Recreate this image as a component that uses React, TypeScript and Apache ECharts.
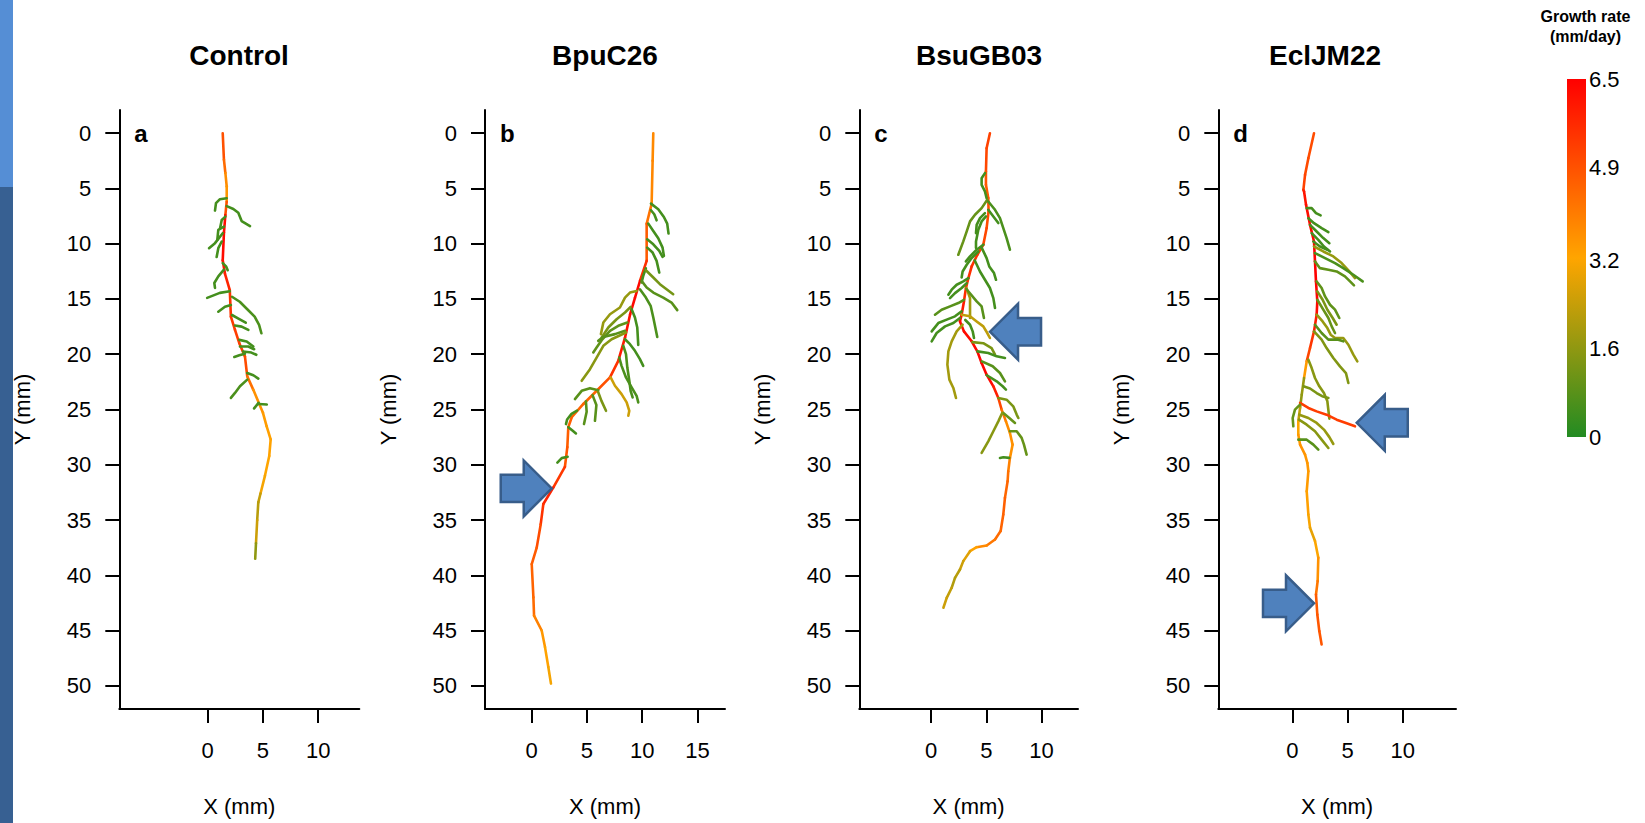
import React, { useEffect, useRef } from 'react';
import * as echarts from 'echarts';

type Pt = [number, number, number];

// ---------- texts / ticks ----------
const panelTitles = ['Control', 'BpuC26', 'BsuGB03', 'EclJM22'];
const panelLetters = ['a', 'b', 'c', 'd'];
const titleCenters = [239, 605, 979, 1325];
const xTickValues = [[0, 5, 10], [0, 5, 10, 15], [0, 5, 10], [0, 5, 10]];
const xRanges = [[-8.0, 13.72], [-4.23, 17.49], [-6.49, 13.3], [-6.7, 14.81]];
const yTickValues = [0, 5, 10, 15, 20, 25, 30, 35, 40, 45, 50];
const yRange = [-2.1, 52.1];
const rateTicks = [0, 1.6, 3.2, 4.9, 6.5];
const rateStops = [0, 3.25, 6.5];
const rateColors = ['#228b22', '#ffa500', '#ff0000'];

// ---------- layout ----------
const gridLefts = [119.3, 485, 859.3, 1218.3];
const gridWidths = [240, 240, 218.7, 237.7];
const gridTop = 110;
const gridHeight = 599;

// ---------- arrows (annotation tips, mm) ----------
const arrowPanels = [1, 2, 3, 3];
const arrowX = [1.81, 5.34, 5.83, 1.96];
const arrowY = [32.14, 17.96, 26.2, 42.54];
const arrowDir = [1, -1, -1, 1];

// ---------- roots: main [x, y, rate]; laterals [rate, x1, y1, x2, y2, ...] ----------
const controlMain: Pt[] = [
  [1.36, 0, 5.0], [1.47, 2.4, 4.8], [1.6, 3.6, 4.0], [1.72, 4.8, 3.5], [1.72, 6.2, 3.6],
  [1.6, 7.4, 6.2], [1.47, 9.0, 6.3], [1.36, 11.5, 6.3], [1.56, 12.7, 6.0], [2.0, 14.2, 5.6],
  [2.1, 16.6, 5.4], [2.47, 17.8, 5.3], [2.86, 19.0, 5.3], [3.37, 20.2, 5.2], [3.58, 22.0, 4.8],
  [4.12, 23.2, 3.8], [5.0, 25.3, 3.5], [5.33, 26.5, 3.4], [5.7, 27.7, 3.3], [5.57, 29.2, 3.3],
  [5.18, 31.0, 3.2], [4.78, 32.6, 3.0], [4.58, 33.4, 1.8], [4.48, 35.0, 2.6], [4.37, 37.1, 2.4],
  [4.3, 38.5, 0.8],
];
const controlLaterals: number[][] = [
  [0.5, 1.72, 5.88, 1.11, 5.97, 0.75, 6.33, 0.66, 7.0],
  [0.5, 1.72, 6.6, 2.32, 6.86, 2.77, 7.2, 3.07, 7.95, 3.83, 8.4],
  [0.5, 1.6, 7.55, 1.27, 7.85, 1.12, 8.6],
  [0.5, 1.47, 8.45, 0.96, 8.75, 0.87, 9.65],
  [0.5, 1.36, 9.05, 0.66, 9.95, 0.12, 10.4],
  [0.5, 1.27, 9.8, 0.96, 10.4, 0.81, 11.2],
  [0.5, 1.36, 11.75, 1.66, 12.05, 1.81, 12.4],
  [0.5, 1.47, 12.35, 0.96, 12.95, 0.6, 13.55, 0.66, 14.0],
  [0.5, 2.0, 14.3, 1.1, 14.45, -0.05, 14.9],
  [0.6, 2.2, 14.8, 2.9, 15.25, 3.65, 16.0, 4.25, 16.6, 4.65, 17.35, 4.86, 18.1],
  [0.5, 2.1, 15.55, 1.56, 15.7, 0.96, 16.15],
  [0.5, 2.2, 16.45, 2.74, 16.75, 3.44, 17.15],
  [0.5, 2.47, 17.4, 3.07, 17.5, 3.68, 17.8],
  [0.5, 2.86, 18.7, 3.53, 18.85, 4.13, 19.3],
  [0.5, 2.92, 19.3, 3.68, 19.3, 4.2, 19.55],
  [0.5, 3.2, 19.75, 3.95, 19.85, 4.4, 20.05],
  [0.5, 3.37, 19.95, 2.86, 20.1, 2.41, 20.25],
  [0.5, 3.58, 21.7, 4.13, 21.9, 4.58, 22.2],
  [0.6, 3.58, 22.3, 2.92, 22.9, 2.47, 23.5, 2.1, 23.95],
  [0.5, 4.6, 24.4, 4.2, 24.9],
  [0.5, 4.6, 24.5, 5.35, 24.55],
];

const bpuMain: Pt[] = [
  [11.0, 0, 3.8], [10.94, 2.5, 3.8], [10.85, 6.4, 3.9], [10.4, 8.2, 4.6], [10.4, 11.55, 4.8],
  [9.8, 13.35, 6.3], [9.34, 14.9, 6.4], [8.9, 16.4, 6.3], [8.44, 18.5, 6.2], [7.83, 20.6, 5.8],
  [7.08, 22.1, 5.2], [5.88, 23.3, 4.6], [4.67, 24.5, 4.5], [3.62, 25.7, 4.6], [3.31, 26.6, 4.7],
  [3.22, 28.4, 4.6], [3.0, 30.2, 5.0], [1.96, 32.05, 5.8], [1.05, 33.55, 5.8], [0.81, 35.4, 5.2],
  [0.45, 37.5, 4.8], [0.0, 39.0, 4.6], [0.15, 42.0, 4.5], [0.21, 43.65, 4.3], [0.9, 45.0, 3.6],
  [1.2, 46.5, 3.4], [1.5, 48.3, 3.2], [1.74, 49.8, 3.0],
];
const bpuLaterals: number[][] = [
  [0.5, 10.79, 6.37, 11.45, 6.88, 11.96, 7.58, 12.26, 8.18, 12.38, 9.08],
  [0.5, 10.79, 6.97, 11.09, 7.33, 11.3, 7.88],
  [0.5, 10.55, 8.18, 11.0, 8.84, 11.45, 9.5, 11.84, 10.35, 11.96, 11.1],
  [0.5, 10.45, 9.6, 11.0, 10.05, 11.54, 10.65, 11.84, 11.19],
  [0.5, 10.45, 10.35, 10.94, 10.8, 11.3, 11.55, 11.54, 12.61],
  [0.5, 10.33, 12.22, 10.09, 12.91, 9.94, 13.51],
  [1.2, 10.33, 12.4, 11.0, 13.06, 11.6, 13.66, 12.2, 14.12, 12.8, 14.57],
  [0.8, 9.94, 13.36, 10.4, 13.96, 11.0, 14.42, 11.9, 14.87, 12.65, 15.32, 13.17, 16.01],
  [0.6, 9.79, 14.12, 10.33, 14.87, 10.76, 15.62, 11.0, 16.68, 11.36, 18.43],
  [1.7, 9.49, 14.27, 8.89, 14.42, 8.44, 14.87, 7.98, 15.77, 7.08, 16.38, 6.48, 17.13, 6.26, 18.18],
  [1.3, 8.95, 15.71, 8.44, 16.22, 7.68, 16.83, 6.93, 17.58, 6.33, 18.49],
  [0.9, 8.65, 17.13, 7.83, 17.43, 7.08, 17.88, 6.33, 18.73, 5.87, 19.39, 5.57, 19.84],
  [0.8, 8.44, 17.88, 7.53, 18.18, 6.48, 18.43, 6.02, 18.79],
  [0.5, 9.04, 15.92, 9.34, 16.68, 9.55, 17.58, 9.64, 19.15],
  [0.5, 8.44, 18.64, 8.89, 19.09, 9.34, 19.69, 9.79, 20.44, 10.09, 21.05],
  [0.6, 8.29, 19.24, 8.53, 19.99, 8.65, 21.2, 8.83, 22.4, 8.95, 23.31, 9.13, 23.91],
  [0.6, 7.92, 20.3, 8.13, 21.05, 8.53, 22.1, 9.04, 23.0, 9.49, 23.76, 9.64, 24.36],
  [1.5, 8.53, 18.03, 7.23, 18.64, 6.48, 19.24, 5.87, 20.3, 5.27, 21.35, 4.52, 22.4],
  [2.5, 7.14, 22.1, 7.53, 22.85, 8.13, 23.61, 8.59, 24.36, 8.83, 25.12, 8.74, 25.57],
  [0.8, 6.02, 23.25, 5.27, 23.07, 4.52, 23.31, 3.91, 24.06],
  [1.3, 6.0, 23.4, 6.3, 24.2, 6.72, 25.12],
  [0.8, 5.5, 23.7, 5.85, 24.6, 5.72, 26.02],
  [0.8, 4.9, 24.25, 4.97, 25.2, 4.73, 26.32],
  [0.5, 4.1, 25.1, 3.6, 25.4, 3.2, 25.9, 3.1, 26.32],
  [0.5, 3.31, 26.6, 3.71, 26.93, 4.0, 27.17],
  [0.5, 3.25, 29.28, 2.71, 29.4, 2.32, 29.8],
];

const bsuMain: Pt[] = [
  [5.33, 0, 5.2], [5.03, 1.36, 5.2], [4.97, 3.46, 5.0], [4.97, 4.67, 4.6], [5.18, 5.87, 4.8],
  [5.21, 7.08, 5.0], [5.03, 8.59, 5.0], [4.73, 10.09, 5.2], [4.19, 11.0, 5.4], [3.68, 12.05, 5.6],
  [3.38, 13.11, 5.6], [3.16, 14.01, 5.5], [2.98, 15.22, 5.8], [2.77, 16.42, 6.2], [2.62, 17.03, 6.3],
  [2.98, 17.93, 6.3], [3.68, 18.83, 6.3], [4.19, 19.74, 6.4], [4.58, 20.79, 6.4], [5.03, 21.85, 6.4],
  [5.64, 22.9, 6.2], [6.09, 23.96, 5.6], [6.39, 25.01, 4.6], [6.78, 26.07, 3.8], [7.14, 27.12, 3.7],
  [7.38, 28.18, 3.6], [7.14, 29.38, 3.7], [6.99, 30.59, 4.2], [6.93, 31.49, 4.4], [6.69, 33.0, 4.6],
  [6.54, 34.5, 4.6], [6.3, 36.0, 4.5], [5.79, 36.76, 4.3], [5.04, 37.3, 4.0], [4.13, 37.46, 3.6],
  [3.53, 37.82, 3.0], [2.92, 38.72, 2.6], [2.62, 39.48, 2.4], [2.17, 40.23, 2.0], [1.87, 41.13, 2.2],
  [1.42, 42.04, 2.5], [1.12, 42.94, 2.5],
];
const bsuLaterals: number[][] = [
  [0.5, 4.88, 3.61, 4.58, 4.07, 4.58, 4.67, 4.88, 5.27, 5.03, 5.87],
  [1.0, 5.09, 6.03, 4.58, 6.78, 3.98, 7.38, 3.53, 7.98, 3.23, 8.89, 2.92, 9.79, 2.47, 11.0],
  [0.5, 5.18, 6.93, 5.64, 7.53, 6.09, 8.13],
  [0.6, 5.18, 6.18, 5.79, 6.93, 6.24, 7.68, 6.54, 8.59, 6.84, 9.49, 7.14, 10.54],
  [0.5, 4.88, 7.23, 4.43, 7.68, 4.13, 8.29, 4.07, 9.04],
  [0.5, 4.97, 7.53, 4.58, 7.98, 4.28, 8.74, 4.07, 9.79, 4.07, 10.39],
  [0.5, 4.73, 10.09, 4.13, 10.54, 3.53, 11.15, 3.16, 11.6],
  [0.5, 4.28, 10.7, 3.68, 11.3, 3.23, 11.9, 2.86, 12.51, 2.77, 13.05],
  [0.5, 4.6, 10.4, 5.03, 11.3, 5.27, 12.05, 5.7, 12.66, 5.88, 13.26],
  [0.5, 3.95, 11.5, 4.43, 12.51, 4.88, 13.26, 5.33, 14.01, 5.64, 14.92, 5.79, 15.82],
  [0.5, 3.38, 13.11, 2.92, 13.41, 2.32, 13.71, 1.87, 14.16, 1.57, 14.61],
  [0.5, 3.23, 13.56, 2.77, 14.01, 2.17, 14.47, 1.72, 14.92],
  [1.9, 3.2, 14.0, 3.53, 14.92, 3.53, 15.82, 3.53, 16.72],
  [0.8, 3.2, 14.1, 4.13, 15.22, 4.58, 15.67, 4.79, 16.72],
  [0.8, 2.98, 15.07, 2.47, 15.37, 1.72, 15.67, 0.96, 15.97, 0.36, 16.42],
  [0.5, 2.77, 16.12, 2.17, 16.57, 1.42, 16.87, 0.66, 17.18, 0.06, 17.93],
  [0.5, 2.62, 16.72, 2.02, 17.18, 1.27, 17.48, 0.51, 18.08, 0.06, 18.83],
  [2.3, 2.77, 16.42, 3.53, 16.57, 4.13, 17.03, 4.73, 17.48, 5.09, 18.08, 5.33, 18.53],
  [1.9, 2.86, 17.33, 2.32, 17.93, 1.87, 18.83, 1.57, 19.74, 1.48, 20.94, 1.66, 22.3, 2.02, 23.05, 2.26, 23.96],
  [0.5, 3.1, 16.9, 3.53, 17.33, 3.77, 17.93, 3.89, 18.53],
  [1.3, 3.75, 18.9, 4.73, 19.0, 5.48, 19.44, 5.79, 20.04],
  [0.5, 4.2, 19.74, 5.18, 19.89, 5.94, 20.19, 6.69, 20.34],
  [0.8, 4.6, 20.64, 5.58, 21.09, 6.24, 21.7, 6.69, 22.45],
  [0.5, 5.05, 21.9, 5.94, 22.45, 6.48, 22.9, 6.78, 23.2],
  [1.3, 6.09, 23.96, 6.84, 24.11, 7.44, 24.71, 7.75, 25.46, 7.9, 25.77],
  [1.0, 6.54, 25.31, 7.08, 25.77, 7.6, 26.22],
  [1.5, 6.45, 25.3, 6.09, 26.07, 5.64, 26.97, 5.18, 27.88, 4.58, 28.93],
  [1.0, 7.14, 26.97, 7.75, 26.97, 8.2, 27.57, 8.41, 28.18, 8.65, 29.08],
  [0.5, 7.08, 29.38, 6.54, 29.32, 6.24, 29.38],
];

const eclMain: Pt[] = [
  [1.96, 0, 5.0], [1.45, 2.26, 5.0], [1.15, 3.77, 5.1], [1.0, 5.12, 5.3], [1.06, 5.27, 6.0],
  [1.24, 6.48, 6.2], [1.6, 8.29, 6.3], [1.96, 9.8, 6.4], [2.05, 11.6, 6.5], [2.14, 13.41, 6.5],
  [2.26, 15.22, 6.4], [2.2, 16.42, 6.2], [1.96, 17.93, 5.6], [1.6, 19.44, 5.3], [1.3, 20.64, 5.0],
  [1.06, 22.15, 1.9], [0.85, 23.66, 1.5], [0.7, 24.86, 1.7], [0.54, 26.07, 3.0], [0.54, 27.28, 3.4],
  [0.7, 28.18, 3.6], [1.15, 29.08, 3.6], [1.36, 29.84, 3.5], [1.45, 30.59, 3.5], [1.3, 32.4, 3.4],
  [1.45, 34.5, 3.3], [1.6, 35.7, 3.0], [2.05, 36.9, 2.8], [2.35, 38.42, 3.6], [2.29, 40.53, 3.7],
  [2.14, 41.74, 4.6], [2.26, 43.55, 4.8], [2.44, 45.05, 4.8], [2.65, 46.26, 4.8],
];
const eclLaterals: number[][] = [
  [0.5, 1.3, 6.78, 1.75, 6.78, 2.14, 7.23, 2.56, 7.44],
  [0.5, 1.45, 7.69, 1.96, 8.14, 2.65, 8.59, 3.26, 8.95],
  [0.5, 1.6, 8.29, 2.2, 8.89, 2.8, 9.49, 3.35, 9.95],
  [0.5, 1.75, 9.04, 2.35, 9.65, 2.86, 10.25, 3.41, 10.7],
  [0.5, 1.9, 9.8, 2.5, 10.25, 3.17, 10.55],
  [1.7, 1.96, 10.25, 2.8, 10.7, 3.71, 11.15, 4.46, 11.75, 5.16, 12.51, 5.67, 13.11],
  [0.6, 2.05, 10.85, 2.96, 11.3, 3.86, 11.75, 4.61, 12.21, 5.52, 12.81, 6.36, 13.41],
  [0.9, 2.05, 11.6, 2.5, 12.21, 3.26, 12.36, 4.01, 12.51, 4.76, 12.96, 5.22, 13.41, 5.58, 13.77],
  [0.9, 2.2, 13.41, 2.65, 14.01, 2.96, 14.77, 3.41, 15.52, 3.86, 15.97, 4.25, 16.72],
  [1.3, 2.26, 14.31, 2.74, 15.07, 3.17, 15.97, 3.65, 16.72, 4.01, 17.33],
  [1.0, 2.26, 15.07, 2.8, 15.97, 3.26, 16.72, 3.56, 17.48, 3.86, 18.08],
  [1.7, 2.2, 16.42, 2.74, 17.03, 3.17, 17.63, 3.47, 18.23, 3.86, 18.53, 4.61, 18.53, 5.07, 19.14, 5.52, 20.04, 5.88, 20.64],
  [0.8, 2.05, 17.33, 2.65, 18.08, 3.26, 18.68, 4.16, 18.68, 4.61, 18.83],
  [1.4, 1.96, 17.93, 2.65, 18.68, 3.1, 19.44, 3.71, 20.34, 4.31, 21.1, 4.85, 21.7, 5.07, 22.6],
  [1.5, 1.45, 20.49, 1.75, 21.25, 2.05, 22.15, 2.44, 22.9, 2.86, 23.51, 3.17, 24.26, 3.35, 25.83],
  [1.3, 1.0, 22.9, 1.6, 23.1, 2.2, 23.51, 2.7, 23.8, 3.26, 23.96],
  [5.3, 0.7, 24.41, 1.45, 24.86, 2.2, 25.17, 3.1, 25.47, 4.01, 25.92, 4.85, 26.22, 5.67, 26.52],
  [1.0, 0.7, 24.56, 0.24, 25.01, 0.03, 25.77, 0.09, 26.52],
  [1.7, 0.63, 25.47, 1.45, 25.77, 2.2, 26.22, 2.86, 26.82, 3.35, 27.5, 3.71, 28.12],
  [1.5, 0.6, 25.92, 1.3, 26.37, 2.05, 26.97, 2.65, 27.73, 3.26, 28.48],
  [0.8, 0.54, 27.73, 1.3, 27.73, 1.9, 28.18, 2.35, 28.63],
];

const panelMains = [controlMain, bpuMain, bsuMain, eclMain];
const panelLaterals = [controlLaterals, bpuLaterals, bsuLaterals, eclLaterals];

// ---------- helpers ----------
const FONT = "'Liberation Sans', Arial, Helvetica, sans-serif";

function hexToRgb(h: string) {
  const n = parseInt(h.slice(1), 16);
  return [(n >> 16) & 255, (n >> 8) & 255, n & 255];
}
function colorFor(r: number) {
  const lo = rateStops[0];
  const hi = rateStops[rateStops.length - 1];
  const v = Math.max(lo, Math.min(hi, r));
  for (let i = 0; i < rateStops.length - 1; i++) {
    if (v <= rateStops[i + 1]) {
      const t = (v - rateStops[i]) / (rateStops[i + 1] - rateStops[i]);
      const a = hexToRgb(rateColors[i]);
      const b = hexToRgb(rateColors[i + 1]);
      const c = a.map((x, k) => Math.round(x + (b[k] - x) * t));
      return `rgb(${c[0]},${c[1]},${c[2]})`;
    }
  }
  return rateColors[rateColors.length - 1];
}

function buildRootData(main: Pt[], laterals: number[][]) {
  const data: any[] = [];
  for (let i = 0; i < main.length - 1; i++) {
    const a = main[i];
    const b = main[i + 1];
    data.push({ coords: [[a[0], a[1]], [b[0], b[1]]], lineStyle: { color: colorFor((a[2] + b[2]) / 2) } });
  }
  for (const lat of laterals) {
    const coords: number[][] = [];
    for (let k = 1; k + 1 < lat.length; k += 2) coords.push([lat[k], lat[k + 1]]);
    data.push({ coords, lineStyle: { color: colorFor(lat[0]) } });
  }
  return data;
}

export default function App() {
  const ref = useRef<HTMLDivElement>(null);

  useEffect(() => {
    if (!ref.current) return;
    const chart = echarts.init(ref.current, null, { renderer: 'svg' });

    const grids: any[] = [];
    const xAxes: any[] = [];
    const yAxes: any[] = [];
    const series: any[] = [];

    for (let i = 0; i < 4; i++) {
      grids.push({ left: gridLefts[i], width: gridWidths[i], top: gridTop, height: gridHeight, containLabel: false });
      xAxes.push({
        type: 'value', gridIndex: i, min: xRanges[i][0], max: xRanges[i][1], position: 'bottom',
        axisLine: { show: true, onZero: false, lineStyle: { color: '#000', width: 2 } },
        axisTick: { show: true, length: 14, customValues: xTickValues[i], lineStyle: { color: '#000', width: 2 } },
        axisLabel: { customValues: xTickValues[i], fontSize: 22, margin: 30, color: '#000', fontFamily: FONT },
        splitLine: { show: false },
        name: 'X (mm)', nameLocation: 'middle', nameGap: 86,
        nameTextStyle: { fontSize: 22, color: '#000', fontFamily: FONT },
      });
      yAxes.push({
        type: 'value', gridIndex: i, min: yRange[0], max: yRange[1], inverse: true, position: 'left',
        axisLine: { show: true, onZero: false, lineStyle: { color: '#000', width: 2 } },
        axisTick: { show: true, length: 14, customValues: yTickValues, lineStyle: { color: '#000', width: 2 } },
        axisLabel: { customValues: yTickValues, fontSize: 22, margin: 28, color: '#000', fontFamily: FONT },
        splitLine: { show: false },
        name: 'Y (mm)', nameLocation: 'middle', nameGap: 86,
        nameTextStyle: { fontSize: 22, color: '#000', fontFamily: FONT },
      });
      series.push({
        type: 'lines', coordinateSystem: 'cartesian2d', xAxisIndex: i, yAxisIndex: i,
        polyline: true, silent: true,
        lineStyle: { width: 2.6, opacity: 1, cap: 'round', join: 'round' },
        data: buildRootData(panelMains[i], panelLaterals[i]),
      });
    }

    // colour bar
    grids.push({ left: 1567, width: 19, top: 79, height: 358 });
    xAxes.push({ type: 'category', gridIndex: 4, data: ['rate'], show: false });
    yAxes.push({
      type: 'value', gridIndex: 4, min: rateTicks[0], max: rateTicks[rateTicks.length - 1], position: 'right',
      axisLine: { show: false }, axisTick: { show: false }, splitLine: { show: false },
      axisLabel: { customValues: rateTicks, fontSize: 22, margin: 3, color: '#000', fontFamily: FONT, formatter: (v: number) => String(v) },
    });
    const maxRate = rateStops[rateStops.length - 1];
    series.push({
      type: 'bar', xAxisIndex: 4, yAxisIndex: 4, barWidth: '100%', silent: true,
      data: [maxRate],
      itemStyle: {
        color: new echarts.graphic.LinearGradient(0, 0, 0, 1,
          rateStops.map((s, k) => ({ offset: 1 - s / maxRate, color: rateColors[k] })).reverse()),
      },
    });

    chart.setOption({
      animation: false,
      backgroundColor: '#fff',
      grid: grids, xAxis: xAxes, yAxis: yAxes, series,
    });

    const elements: any[] = [];
    // left decorative bar
    elements.push({ type: 'rect', z: 100, shape: { x: 0, y: 0, width: 13, height: 187 }, style: { fill: '#558ed5' } });
    elements.push({ type: 'rect', z: 100, shape: { x: 0, y: 187, width: 13, height: 636 }, style: { fill: '#376092' } });
    // titles and letters
    for (let i = 0; i < 4; i++) {
      elements.push({
        type: 'text', x: titleCenters[i], y: 55,
        style: { text: panelTitles[i], font: `bold 28px ${FONT}`, fill: '#000', textAlign: 'center', textVerticalAlign: 'middle' },
      });
      const p0 = chart.convertToPixel({ gridIndex: i } as any, [0, 0]) as number[];
      elements.push({
        type: 'text', x: gridLefts[i] + 15, y: p0[1],
        style: { text: panelLetters[i], font: `bold 24px ${FONT}`, fill: '#000', textAlign: 'left', textVerticalAlign: 'middle' },
      });
    }
    elements.push({
      type: 'text', x: 1585.5, y: 6,
      style: { text: 'Growth rate\n(mm/day)', font: `bold 16px ${FONT}`, lineHeight: 20, fill: '#000', textAlign: 'center', textVerticalAlign: 'top' },
    });
    // arrows
    for (let k = 0; k < arrowX.length; k++) {
      const p = chart.convertToPixel({ gridIndex: arrowPanels[k] } as any, [arrowX[k], arrowY[k]]) as number[];
      const d = arrowDir[k];
      const tx = p[0];
      const ty = p[1];
      const pts = [
        [tx - d * 51, ty - 13.7], [tx - d * 28, ty - 13.7], [tx - d * 28, ty - 28], [tx, ty],
        [tx - d * 28, ty + 28], [tx - d * 28, ty + 13.7], [tx - d * 51, ty + 13.7],
      ];
      elements.push({
        type: 'polygon', z: 50, shape: { points: pts },
        style: { fill: '#4f81bd', stroke: '#385d8a', lineWidth: 2.5, lineJoin: 'miter' },
      });
    }
    chart.setOption({ graphic: { elements } });

    return () => chart.dispose();
  }, []);

  return <div ref={ref} style={{ position: 'absolute', left: 0, top: 0, width: 1645, height: 823 }} />;
}
